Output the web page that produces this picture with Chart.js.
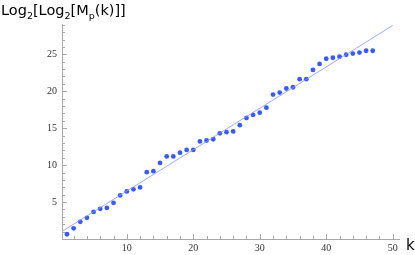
<!DOCTYPE html>
<html>
<head>
<meta charset="utf-8">
<script src="https://cdn.jsdelivr.net/npm/chart.js@4"></script>
<style>
  html, body { margin: 0; padding: 0; background: #fff; }
  #wrap { width: 415px; height: 255px; position: relative; }
</style>
</head>
<body>
<div id="wrap"><canvas id="plot" width="415" height="255"></canvas></div>
<script>
// k = 1..47 and Log2[Log2[Mp(k)]]
const kValues = [1,2,3,4,5,6,7,8,9,10,11,12,13,14,15,16,17,18,19,20,21,22,23,24,25,26,27,28,29,30,31,32,33,34,35,36,37,38,39,40,41,42,43,44,45,46,47];
const logValues = [0.64,1.45,2.33,2.86,3.67,4.08,4.2,4.9,5.9,6.44,6.72,6.98,9.05,9.18,10.3,11.18,11.18,11.68,12.05,12.05,
  13.2,13.33,13.5,14.3,14.46,14.56,15.4,16.38,16.8,17.1,17.78,19.55,19.82,20.37,20.54,21.63,21.63,22.88,23.7,24.4,
  24.53,24.68,24.94,25.1,25.23,25.48,25.48];
const xTicks = [10, 20, 30, 40, 50];
const yTicks = [5, 10, 15, 20, 25];

// least squares line through the points, drawn from k=0 to k=50
function fitLine(xs, ys) {
  const n = xs.length;
  const mx = xs.reduce((a, b) => a + b, 0) / n;
  const my = ys.reduce((a, b) => a + b, 0) / n;
  let sxy = 0, sxx = 0;
  for (let i = 0; i < n; i++) {
    sxy += (xs[i] - mx) * (ys[i] - my);
    sxx += (xs[i] - mx) * (xs[i] - mx);
  }
  const m = sxy / sxx;
  return { m: m, b: my - m * mx };
}
const fit = fitLine(kValues, logValues);
const fitPoints = [0, 50].map(k => ({ x: k, y: fit.b + fit.m * k }));

const axisColor = '#a8a8a8';
const serif = '"Liberation Serif", "Times New Roman", serif';

// axes with inward ticks, title and axis label
const decor = {
  id: 'decor',
  afterDatasetsDraw(chart) {
    const ctx = chart.ctx;
    const xs = chart.scales.x, ys = chart.scales.y;
    const area = chart.chartArea;
    ctx.save();
    ctx.strokeStyle = axisColor;
    ctx.lineWidth = 1;
    ctx.beginPath();
    ctx.moveTo(area.left + 0.5, area.top);
    ctx.lineTo(area.left + 0.5, area.bottom);
    ctx.moveTo(area.left, area.bottom + 0.5);
    ctx.lineTo(area.right, area.bottom + 0.5);
    for (let k = 2; k <= 50; k += 2) {
      const px = Math.round(xs.getPixelForValue(k)) + 0.5;
      const len = k % 10 === 0 ? 5 : 3;
      ctx.moveTo(px, area.bottom);
      ctx.lineTo(px, area.bottom - len);
    }
    for (let v = 1; v <= 29; v++) {
      const py = Math.round(ys.getPixelForValue(v)) + 0.5;
      const len = v % 5 === 0 ? 5 : 3;
      ctx.moveTo(area.left, py);
      ctx.lineTo(area.left + len, py);
    }
    ctx.stroke();

    ctx.fillStyle = '#000';
    ctx.textBaseline = 'alphabetic';
    ctx.textAlign = 'left';
    const big = '14.5px "DejaVu Sans", sans-serif';
    const small = '9.5px "DejaVu Sans", sans-serif';
    const parts = [['Log', 0], ['2', 1], ['[Log', 0], ['2', 1], ['[M', 0], ['p', 1], ['(k)]]', 0]];
    let x = 1;
    parts.forEach(([t, sub]) => {
      ctx.font = sub ? small : big;
      ctx.fillText(t, x, sub ? 19 : 15);
      x += ctx.measureText(t).width;
    });
    ctx.font = '15px "DejaVu Sans", sans-serif';
    ctx.fillText('k', 406, 250);
    ctx.restore();
  }
};

new Chart(document.getElementById('plot'), {
  type: 'scatter',
  data: {
    datasets: [{
      label: 'fit',
      type: 'line',
      data: fitPoints,
      borderColor: 'rgba(130,150,255,0.8)',
      borderWidth: 1,
      pointRadius: 0,
      fill: false
    }, {
      label: 'points',
      data: kValues.map((k, i) => ({ x: k, y: logValues[i] })),
      backgroundColor: '#3a5af6',
      borderWidth: 0,
      pointRadius: 2.4
    }]
  },
  options: {
    responsive: false,
    animation: false,
    devicePixelRatio: 1,
    layout: { padding: { left: 0, right: 15, top: 24, bottom: 0 } },
    plugins: { legend: { display: false }, tooltip: { enabled: false } },
    scales: {
      x: {
        type: 'linear', min: 0.25, max: 51.1,
        afterBuildTicks: s => { s.ticks = xTicks.map(v => ({ value: v })); },
        afterFit: s => { s.height = 16; },
        grid: { display: false, drawTicks: false },
        border: { display: false },
        ticks: { padding: 3, maxRotation: 0, color: '#333', font: { family: serif, size: 10 } }
      },
      y: {
        type: 'linear', min: 0, max: 29.1,
        afterBuildTicks: s => { s.ticks = yTicks.map(v => ({ value: v })); },
        afterFit: s => { s.width = 62; },
        grid: { display: false, drawTicks: false },
        border: { display: false },
        ticks: { padding: 5, color: '#333', font: { family: serif, size: 10 } }
      }
    }
  },
  plugins: [decor]
});
</script>
</body>
</html>
